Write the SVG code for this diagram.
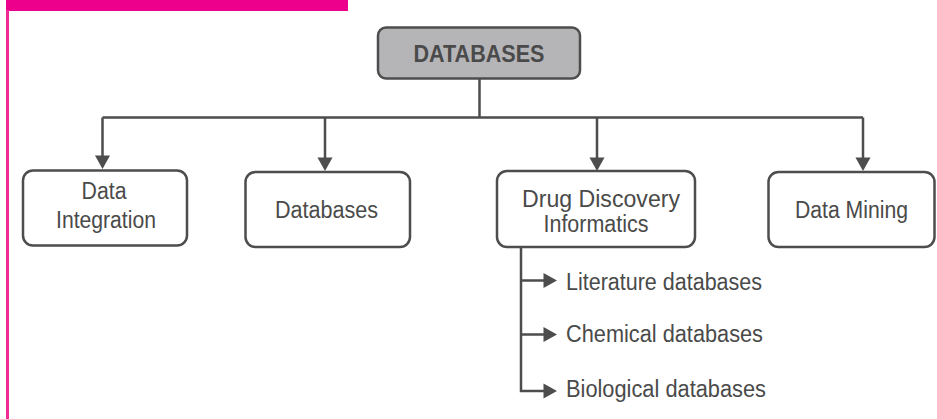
<svg xmlns="http://www.w3.org/2000/svg" width="937" height="419" viewBox="0 0 937 419">
<defs>
<style>
.box{fill:#ffffff;stroke:#4d4d4d;stroke-width:2.5}
.root{fill:#b5b5b8;stroke:#4d4d4d;stroke-width:2.5}
.ln{fill:none;stroke:#4d4d4d;stroke-width:2.5}
.ah{fill:#4d4d4d}
text{font-family:"Liberation Sans",Arial,sans-serif;font-size:23.5px;fill:#4a4a4a}
.c{text-anchor:middle}
.b{font-weight:bold;font-size:23px}
</style>
</defs>
<rect x="6" y="0" width="342" height="11" fill="#ec008c"/>
<rect x="6" y="10" width="3" height="409" fill="#ee2a96"/>
<g id="connectors">
<path class="ln" d="M479.5 79 V117.5 M102.5 117.5 H863 M102.5 117.5 V158 M325 117.5 V159 M597 117.5 V159 M863 117.5 V159"/>
<polygon class="ah" points="95,155.5 110,155.5 102.5,169"/>
<polygon class="ah" points="317.5,157.5 332.5,157.5 325,171"/>
<polygon class="ah" points="589.5,157.5 604.5,157.5 597,171"/>
<polygon class="ah" points="855.5,157.5 870.5,157.5 863,171"/>
<path class="ln" d="M521 247 V391 H546 M521 280.5 H546 M521 334.5 H546"/>
<polygon class="ah" points="543.5,273 557,280.5 543.5,288"/>
<polygon class="ah" points="543.5,327 557,334.5 543.5,342"/>
<polygon class="ah" points="543.5,383.5 557,391 543.5,398.5"/>
</g>
<g id="root">
<rect class="root" x="378" y="27.5" width="202" height="51" rx="8"/>
<text class="c b" x="479" y="62" textLength="131" lengthAdjust="spacingAndGlyphs">DATABASES</text>
</g>
<g id="data-integration">
<rect class="box" x="23" y="170.5" width="164" height="75" rx="10"/>
<text class="c" x="104" y="198.5" textLength="45" lengthAdjust="spacingAndGlyphs">Data</text>
<text class="c" x="106" y="228" textLength="100" lengthAdjust="spacingAndGlyphs">Integration</text>
</g>
<g id="databases">
<rect class="box" x="245.5" y="172" width="164.5" height="75" rx="10"/>
<text class="c" x="326.5" y="218" textLength="103" lengthAdjust="spacingAndGlyphs">Databases</text>
</g>
<g id="drug-discovery">
<rect class="box" x="497" y="171" width="198" height="76" rx="10"/>
<text class="c" x="601" y="206.5" textLength="158" lengthAdjust="spacingAndGlyphs">Drug Discovery</text>
<text class="c" x="596" y="231.5" textLength="105" lengthAdjust="spacingAndGlyphs">Informatics</text>
</g>
<g id="data-mining">
<rect class="box" x="768.5" y="172" width="166" height="75" rx="10"/>
<text class="c" x="851.5" y="218" textLength="113" lengthAdjust="spacingAndGlyphs">Data Mining</text>
</g>
<g id="literature">
<text x="566" y="289.5" textLength="196" lengthAdjust="spacingAndGlyphs">Literature databases</text>
</g>
<g id="chemical">
<text x="566" y="342" textLength="197" lengthAdjust="spacingAndGlyphs">Chemical databases</text>
</g>
<g id="biological">
<text x="566" y="397" textLength="200" lengthAdjust="spacingAndGlyphs">Biological databases</text>
</g>
</svg>
